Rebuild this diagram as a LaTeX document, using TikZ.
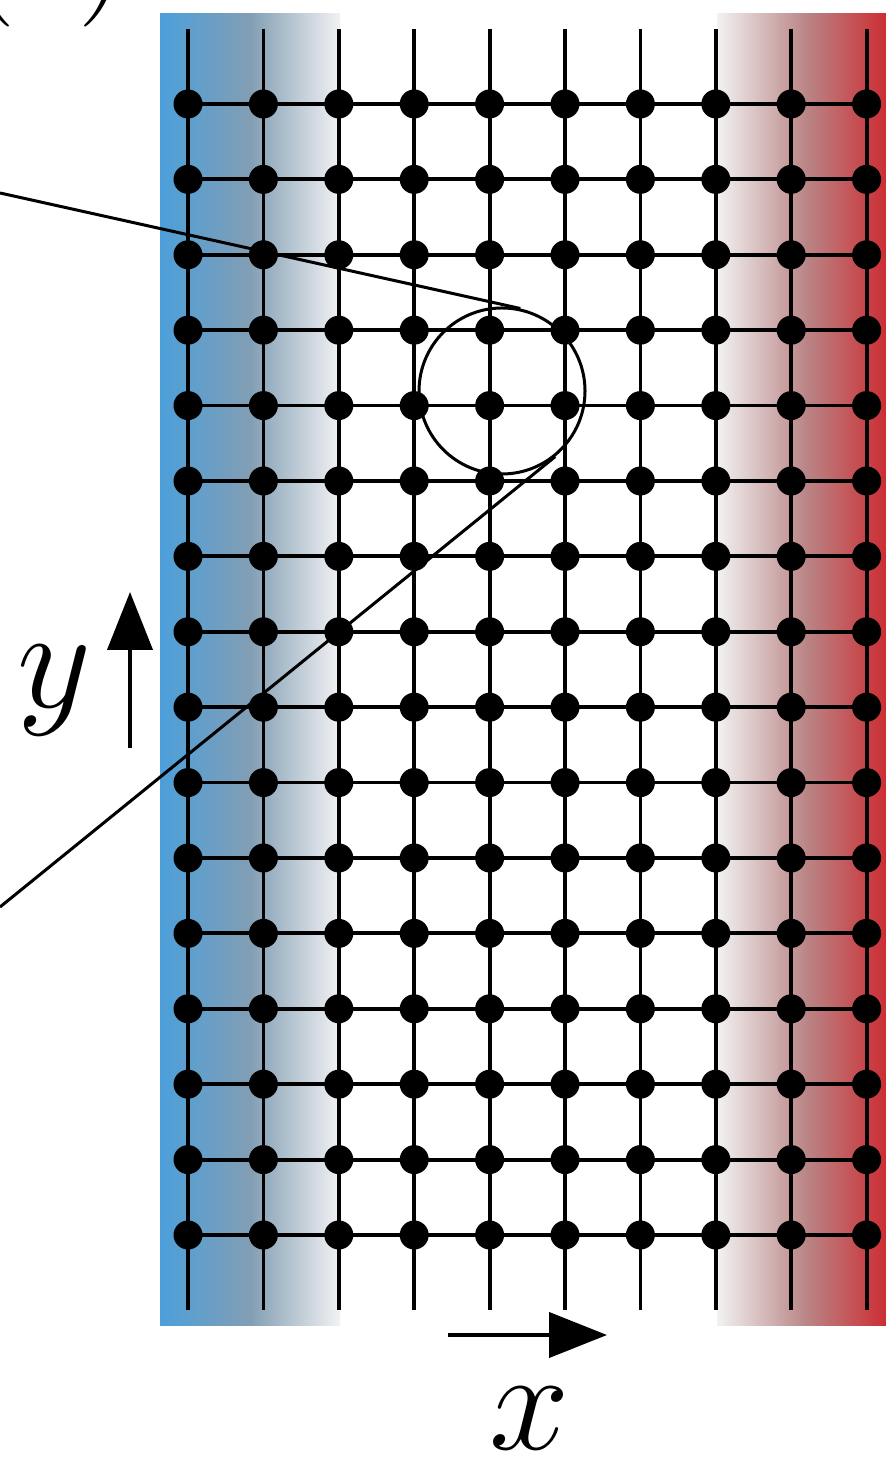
\documentclass[tikz,border=0pt]{standalone}
\usetikzlibrary{calc,arrows.meta}
\definecolor{bL}{RGB}{76,159,218}
\definecolor{bM}{RGB}{130,158,180}
\definecolor{bR}{RGB}{242,242,243}
\definecolor{rL}{RGB}{242,242,242}
\definecolor{rM}{RGB}{186,132,133}
\definecolor{rR}{RGB}{206,34,40}
\tikzset{
  dot/.style={circle,fill=black,inner sep=0pt,minimum size=2.9pt},
  gridline/.style={line width=0.38pt,black},
  zoomline/.style={line width=0.3pt},
  magnifier/.style={circle,draw,line width=0.3pt,minimum size=16.6pt,inner sep=0pt},
  axisarrow/.style={line width=0.42pt,-{Triangle[length=5.8pt,width=4.5pt]}},
  axislabel/.style={font=\fontsize{14.4}{17}\selectfont,inner sep=0pt,anchor=base},
}
\begin{document}
\begin{tikzpicture}[x=0.1pt,y=-0.1pt]
\useasboundingbox (0,0) rectangle (886,1462);
\clip (0,0) rectangle (886,1462);
% shaded boundary bands
\shade[left color=bL,right color=bR,middle color=bM] (160,14) rectangle (340,1325);
\shade[left color=rL,right color=rR,middle color=rM] (717,14) rectangle (897,1325);
% lattice
\foreach \i in {0,...,9}{
  \foreach \j in {0,...,15}{
    \coordinate (g-\i-\j) at ({188+75.4*\i},{104+75.4*\j});
  }
  \coordinate (top-\i) at ({188+75.4*\i},29);
  \coordinate (bot-\i) at ({188+75.4*\i},1310);
  \draw[gridline] (top-\i) -- (bot-\i);
}
\foreach \j in {0,...,15}{
  \draw[gridline] (g-0-\j) -- (g-9-\j);
}
\foreach \i in {0,...,9}{
  \foreach \j in {0,...,15}{
    \node[dot] (n-\i-\j) at (g-\i-\j) {};
  }
}
% magnifier circle and zoom lines
\node[magnifier] (mag) at (502,391) {};
\coordinate (p1) at (0,193);
\coordinate (p2) at (0,907);
\draw[zoomline] (p1) -- (tangent cs:node=mag,point={(p1)},solution=2);
\draw[zoomline] (p2) -- (tangent cs:node=mag,point={(p2)},solution=1);
% axes
\coordinate (ya) at (130,748);
\coordinate (yb) at (130,592);
\draw[axisarrow] (ya) -- (yb);
\node[axislabel] (ylab) at (54,708) {$y$};
\coordinate (xa) at (448,1335);
\coordinate (xb) at (607,1335);
\draw[axisarrow] (xa) -- (xb);
\node[axislabel] (xlab) at (530,1449) {$x$};
% panel label (cut off)
\node[font=\fontsize{15}{18}\selectfont,inner sep=0pt,anchor=base west] (panel) at (-38,-10) {(c)};
\end{tikzpicture}
\end{document}
